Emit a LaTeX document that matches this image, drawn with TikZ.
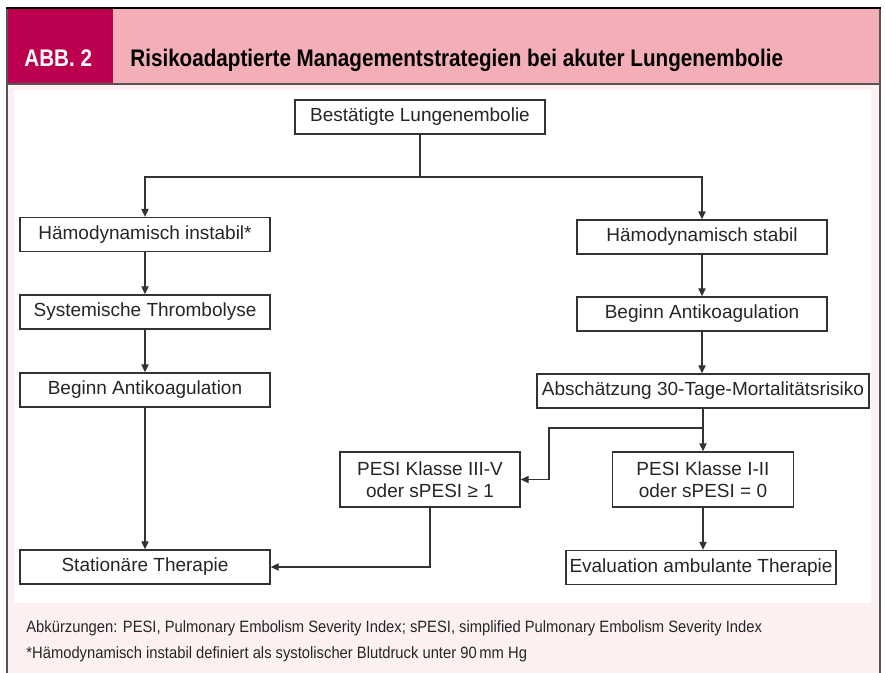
\documentclass[tikz,border=0pt]{standalone}
\usepackage{fontspec}
\setmainfont{Liberation Sans}
\newfontfamily\condfont[FakeStretch=0.86]{Liberation Sans}
\newfontfamily\footfont[FakeStretch=0.9]{Liberation Sans}
\usetikzlibrary{arrows.meta}
\definecolor{abbmag}{HTML}{BC004F}
\definecolor{bandpink}{HTML}{F3AEB8}
\definecolor{bodybg}{HTML}{FCF0F1}
\definecolor{framegrey}{HTML}{555555}
\definecolor{linegrey}{HTML}{333333}
\tikzset{
  box/.style={draw=linegrey, line width=0.65pt, fill=white, inner sep=0pt,
    minimum width=125pt, minimum height=17pt, align=center,
    font=\fontsize{9.5}{11}\selectfont, text=black!85},
  conn/.style={draw=linegrey, line width=0.65pt},
  arr/.style={conn, -{Triangle[length=4pt,width=3.6pt]}},
  hdr/.style={anchor=base west, inner sep=0pt, font=\condfont\bfseries\fontsize{12}{14}\selectfont},
  foot/.style={anchor=base west, inner sep=0pt, font=\footfont\fontsize{8.2}{10}\selectfont, text=black!85},
}
\begin{document}
\begin{tikzpicture}[x=0.5pt,y=-0.5pt]
\useasboundingbox (0,0) rectangle (885,673);
\fill[white] (0,0) rectangle (885,673);
\fill[bodybg] (7,84) rectangle (880,673);
\fill[white] (14,90) rectangle (871,603);
\fill[bandpink] (7,9) rectangle (880,84);
\fill[abbmag] (7,9) rectangle (113,84);
\draw[framegrey, line width=0.6pt] (7,9) -- (7,673) (880,9) -- (880,673) (7,84) -- (880,84);
\draw[black, line width=1pt] (6,8) -- (881,8);
\node[hdr, text=white] (abb) at (24,67) {ABB. 2};
\node[hdr, text=black] (title) at (130,67) {Risikoadaptierte Managementstrategien bei akuter Lungenembolie};

\node[box] (b0) at (420,117) {Bestätigte Lungenembolie};
\node[box] (L1) at (145,234.5) {Hämodynamisch instabil*};
\node[box] (L2) at (145,312) {Systemische Thrombolyse};
\node[box] (L3) at (145,390) {Beginn Antikoagulation};
\node[box] (L4) at (145,567) {Stationäre Therapie};
\node[box] (R1) at (702,237) {Hämodynamisch stabil};
\node[box] (R2) at (702,314) {Beginn Antikoagulation};
\node[box, minimum width=166pt] (R3) at (703,391) {Abschätzung 30-Tage-Mortalitätsrisiko};
\node[box, minimum width=90pt, minimum height=27.5pt] (P1) at (430,479.5) {PESI Klasse III-V\\oder sPESI ≥ 1};
\node[box, minimum width=90.5pt, minimum height=27.5pt] (P2) at (703,479.5) {PESI Klasse I-II\\oder sPESI = 0};
\node[box, minimum width=135pt] (E) at (701,567.5) {Evaluation ambulante Therapie};

\coordinate (j0) at (420,177);
\draw[conn] (b0.south) -- (j0);
\draw[arr] (j0) -| (L1.north);
\draw[arr] (j0) -| (R1.north);
\draw[arr] (L1) -- (L2);
\draw[arr] (L2) -- (L3);
\draw[arr] (L3) -- (L4);
\draw[arr] (R1) -- (R2);
\draw[arr] (R2.south) -- (R2.south |- R3.north);
\coordinate (j1) at (703,428);
\coordinate (k1) at (549,428);
\draw[conn] (R3.south) -- (j1);
\draw[arr] (j1) -- (P2.north);
\draw[arr] (j1) -- (k1) |- (P1.east);
\draw[arr] (P1.south) |- (L4.east);
\draw[arr] (P2.south) -- (P2.south |- E.north);

\node[foot] (f1) at (26,633) {Abkürzungen: PESI, Pulmonary Embolism Severity Index; sPESI, simplified Pulmonary Embolism Severity Index};
\node[foot] (f2) at (26,659) {*Hämodynamisch instabil definiert als systolischer Blutdruck unter 90\,mm Hg};
\end{tikzpicture}
\end{document}
